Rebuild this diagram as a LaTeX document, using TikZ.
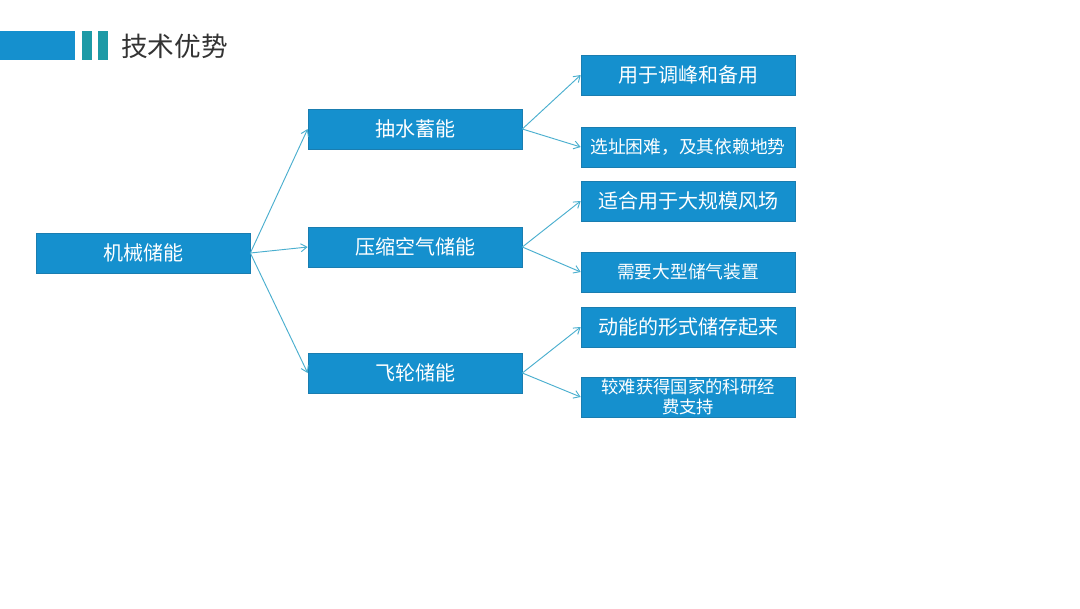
\documentclass[tikz,border=0pt]{standalone}
\usepackage{fontspec}
\newfontfamily\cjk{Noto Sans CJK SC}
\newfontfamily\cjklight{Noto Sans CJK SC Light}
\usetikzlibrary{arrows.meta}
\definecolor{boxblue}{HTML}{1590CE}
\definecolor{boxedge}{HTML}{1A7DB0}
\definecolor{barteal}{HTML}{1D9AA6}
\definecolor{linkblue}{HTML}{4AAFCF}
\definecolor{titlegray}{HTML}{333333}
\tikzset{
  nbox/.style={fill=boxblue, draw=boxedge, line width=0.5pt, minimum width=214*0.75pt, minimum height=40*0.75pt, inner sep=0pt, text=white, font=\cjk\fontsize{15}{16}\selectfont, align=center},
  sbox/.style={nbox, font=\cjk\fontsize{13.3}{14}\selectfont},
  link/.style={draw=linkblue, line width=0.7pt, -{Straight Barb[length=4.5pt,width=6pt]}}
}
\begin{document}
\begin{tikzpicture}[x=0.75pt,y=-0.75pt]
\useasboundingbox (0,0) rectangle (1080,608);
\fill[white] (0,0) rectangle (1080,608);
% header
\fill[boxblue] (0,31) rectangle (75,60);
\fill[barteal] (82,31) rectangle (92,60);
\fill[barteal] (98,31) rectangle (108,60);
\node[anchor=west, inner sep=0pt, text=titlegray, font=\cjk\fontsize{20}{21}\selectfont] (title) at (121,46) {技术优势};
% boxes
\node[nbox] (root) at (143,253) {机械储能};
\node[nbox] (m1) at (415,129) {抽水蓄能};
\node[nbox] (m2) at (415,247) {压缩空气储能};
\node[nbox] (m3) at (415,373) {飞轮储能};
\node[nbox] (r1) at (688,75) {用于调峰和备用};
\node[sbox] (r2) at (688,147) {选址困难，及其依赖地势};
\node[nbox] (r3) at (688,201) {适合用于大规模风场};
\node[sbox] (r4) at (688,272) {需要大型储气装置};
\node[nbox] (r5) at (688,327) {动能的形式储存起来};
\node[sbox, font=\cjk\fontsize{13}{15.5}\selectfont] (r6) at (688,397) {较难获得国家的科研经\\费支持};
% links
\foreach \m in {m1,m2,m3} \draw[link] (root.east) -- (\m.west);
\draw[link] (m1.east) -- (r1.west);
\draw[link] (m1.east) -- (r2.west);
\draw[link] (m2.east) -- (r3.west);
\draw[link] (m2.east) -- (r4.west);
\draw[link] (m3.east) -- (r5.west);
\draw[link] (m3.east) -- (r6.west);
\end{tikzpicture}
\end{document}
